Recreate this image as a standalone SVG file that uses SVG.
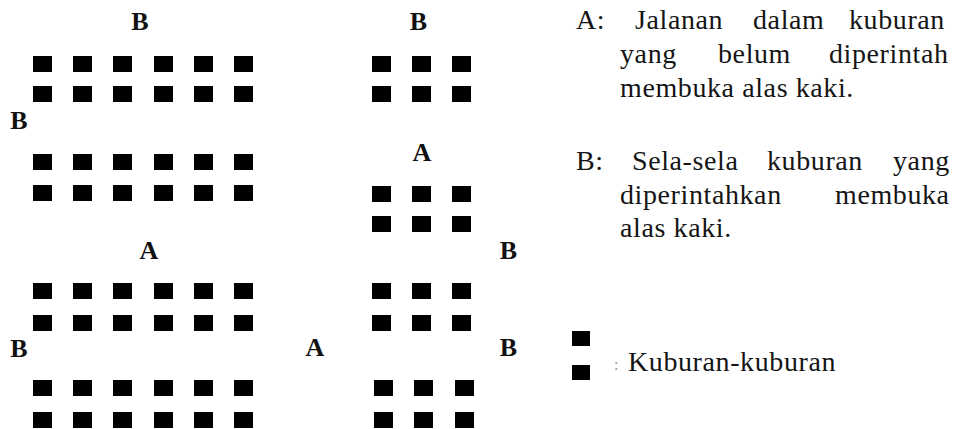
<svg xmlns="http://www.w3.org/2000/svg" xmlns:xlink="http://www.w3.org/1999/xlink" width="956" height="429" viewBox="0 0 956 429">
<style>
.lbl{font-family:"Liberation Serif","Times New Roman",serif;font-weight:bold;font-size:26px;text-anchor:middle;fill:#111}
.note{font-family:"Liberation Serif","Times New Roman",serif;font-weight:400;font-style:normal;font-size:28px;letter-spacing:0.6px;fill:#151515}
.col{font-family:"Liberation Serif","Times New Roman",serif;font-weight:400;font-size:16px;fill:#999}
</style>
<defs>
<rect id="g" width="19" height="16" fill="#000"/>
</defs>
<rect width="956" height="429" fill="#fff"/>

<g id="left-grid-1">
<use href="#g" x="33" y="56"/><use href="#g" x="73" y="56"/><use href="#g" x="113" y="56"/><use href="#g" x="154" y="56"/><use href="#g" x="194" y="56"/><use href="#g" x="234" y="56"/>
<use href="#g" x="33" y="86"/><use href="#g" x="73" y="86"/><use href="#g" x="113" y="86"/><use href="#g" x="154" y="86"/><use href="#g" x="194" y="86"/><use href="#g" x="234" y="86"/>
</g>
<g id="left-grid-2">
<use href="#g" x="33" y="154"/><use href="#g" x="73" y="154"/><use href="#g" x="113" y="154"/><use href="#g" x="154" y="154"/><use href="#g" x="194" y="154"/><use href="#g" x="234" y="154"/>
<use href="#g" x="33" y="185"/><use href="#g" x="73" y="185"/><use href="#g" x="113" y="185"/><use href="#g" x="154" y="185"/><use href="#g" x="194" y="185"/><use href="#g" x="234" y="185"/>
</g>
<g id="left-grid-3">
<use href="#g" x="33" y="283"/><use href="#g" x="73" y="283"/><use href="#g" x="113" y="283"/><use href="#g" x="154" y="283"/><use href="#g" x="194" y="283"/><use href="#g" x="234" y="283"/>
<use href="#g" x="33" y="315"/><use href="#g" x="73" y="315"/><use href="#g" x="113" y="315"/><use href="#g" x="154" y="315"/><use href="#g" x="194" y="315"/><use href="#g" x="234" y="315"/>
</g>
<g id="left-grid-4">
<use href="#g" x="33" y="380"/><use href="#g" x="73" y="380"/><use href="#g" x="113" y="380"/><use href="#g" x="154" y="380"/><use href="#g" x="194" y="380"/><use href="#g" x="234" y="380"/>
<use href="#g" x="33" y="412"/><use href="#g" x="73" y="412"/><use href="#g" x="113" y="412"/><use href="#g" x="154" y="412"/><use href="#g" x="194" y="412"/><use href="#g" x="234" y="412"/>
</g>

<g id="mid-grid-1">
<use href="#g" x="372" y="56"/><use href="#g" x="412" y="56"/><use href="#g" x="452" y="56"/>
<use href="#g" x="372" y="86"/><use href="#g" x="412" y="86"/><use href="#g" x="452" y="86"/>
</g>
<g id="mid-grid-2">
<use href="#g" x="372" y="186"/><use href="#g" x="412" y="186"/><use href="#g" x="452" y="186"/>
<use href="#g" x="372" y="216"/><use href="#g" x="412" y="216"/><use href="#g" x="452" y="216"/>
</g>
<g id="mid-grid-3">
<use href="#g" x="372" y="283"/><use href="#g" x="412" y="283"/><use href="#g" x="452" y="283"/>
<use href="#g" x="372" y="315"/><use href="#g" x="412" y="315"/><use href="#g" x="452" y="315"/>
</g>
<g id="mid-grid-4">
<use href="#g" x="374" y="380"/><use href="#g" x="414" y="380"/><use href="#g" x="455" y="380"/>
<use href="#g" x="374" y="412"/><use href="#g" x="414" y="412"/><use href="#g" x="455" y="412"/>
</g>

<g id="labels">
<text class="lbl" x="140" y="30">B</text>
<text class="lbl" x="19" y="129">B</text>
<text class="lbl" x="149" y="259">A</text>
<text class="lbl" x="19" y="357">B</text>
<text class="lbl" x="418.5" y="30">B</text>
<text class="lbl" x="422" y="161">A</text>
<text class="lbl" x="508.5" y="259">B</text>
<text class="lbl" x="315" y="356">A</text>
<text class="lbl" x="508.5" y="356">B</text>
</g>

<g id="connectors"></g>

<g id="legend-text">
<text class="note" y="29"><tspan x="576">A:</tspan><tspan x="635">Jalanan</tspan><tspan x="753">dalam</tspan><tspan x="849">kuburan</tspan></text>
<text class="note" y="63"><tspan x="620">yang</tspan><tspan x="718">belum</tspan><tspan x="829">diperintah</tspan></text>
<text class="note" x="620" y="97">membuka alas kaki.</text>
<text class="note" y="170"><tspan x="576">B:</tspan><tspan x="632">Sela-sela</tspan><tspan x="767">kuburan</tspan><tspan x="893">yang</tspan></text>
<text class="note" y="204"><tspan x="620">diperintahkan</tspan><tspan x="835">membuka</tspan></text>
<text class="note" x="620" y="237">alas kaki.</text>
</g>

<g id="legend-key">
<rect x="572" y="331" width="18" height="15" fill="#000"/>
<rect x="572" y="365" width="18" height="15" fill="#000"/>
<text class="col" x="614" y="370">:</text>
<text class="note" x="628" y="371">Kuburan-kuburan</text>
</g>
</svg>
